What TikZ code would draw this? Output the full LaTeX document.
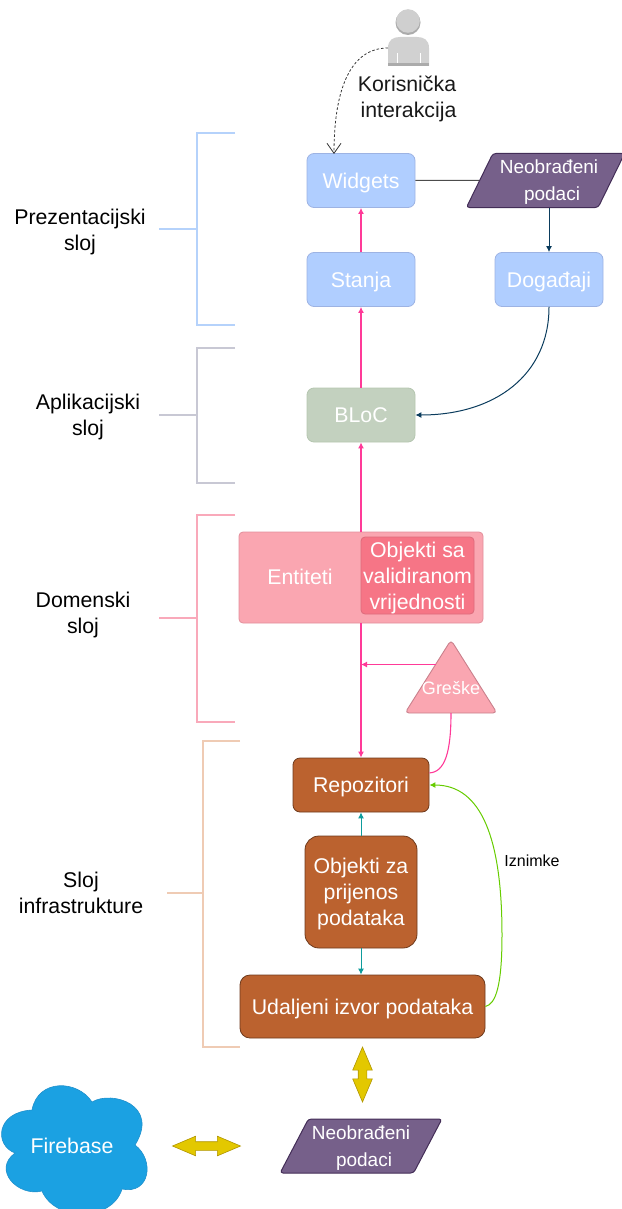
\documentclass[tikz,border=0pt]{standalone}
\usepackage{fontspec}
\setmainfont{Liberation Sans}
\usepackage{xcolor}
\usetikzlibrary{shapes.geometric}
\usetikzlibrary{shapes.arrows}
\usetikzlibrary{arrows.meta}
\definecolor{boxblue}{HTML}{B0CEFF}
\definecolor{edgeblue}{HTML}{9DB3E3}
\definecolor{rawpurple}{HTML}{76608A}
\definecolor{edgepurple}{HTML}{432D57}
\definecolor{blocgreen}{HTML}{C3D1BF}
\definecolor{edgegreen}{HTML}{B5C6B0}
\definecolor{entpink}{HTML}{FAA6B1}
\definecolor{edgepink}{HTML}{E28F9B}
\definecolor{edgetri}{HTML}{C9808C}
\definecolor{valpink}{HTML}{F67586}
\definecolor{edgeval}{HTML}{DD6B7B}
\definecolor{infbrown}{HTML}{BB622F}
\definecolor{edgebrown}{HTML}{6E3A1C}
\definecolor{fireblue}{HTML}{1BA1E2}
\definecolor{edgefire}{HTML}{2090CC}
\definecolor{arrowyellow}{HTML}{E3C800}
\definecolor{edgeyellow}{HTML}{B09500}
\definecolor{linepink}{HTML}{FF3A98}
\definecolor{lineteal}{HTML}{0E9C9C}
\definecolor{linegreen}{HTML}{66CC00}
\definecolor{linenavy}{HTML}{0B3C5D}
\definecolor{brackblue}{HTML}{B5D2FB}
\definecolor{brackgrey}{HTML}{C8C8D4}
\definecolor{brackpink}{HTML}{F9A9BA}
\definecolor{brackpeach}{HTML}{EFCBB4}
\begin{document}
\begin{tikzpicture}[x=1pt, y=-1pt, node distance=99pt,
    block/.style={draw, rounded corners=7pt, minimum width=108pt, minimum height=54pt, inner sep=0pt, text=white, align=center, text depth=0pt, line width=0.8pt, font=\fontsize{21.3}{26}\selectfont},
    uilayer/.style={block, fill=boxblue, draw=edgeblue},
    infra/.style={block, fill=infbrown, draw=edgebrown},
    rawdata/.style={draw=edgepurple, fill=rawpurple, trapezium, trapezium left angle=57, trapezium right angle=123, trapezium stretches=true, rounded corners=3pt, minimum height=54pt, inner sep=0pt, text=white, align=center, text depth=0pt, line width=1pt, font=\fontsize{19}{27}\selectfont},
    yellowarrow/.style={draw=edgeyellow, fill=arrowyellow, double arrow, double arrow head extend=5.5pt, double arrow tip angle=46, inner sep=4pt, minimum height=68pt, minimum width=19pt, line width=0.6pt},
    sidelabel/.style={align=center, inner sep=0pt, font=\fontsize{21.3}{26}\selectfont},
    bracket/.style={line width=1.5pt},
    flow/.style={line width=1pt, -{Latex[length=6pt, width=6pt]}},
    pinkflow/.style={line width=1.1pt, linepink, -{Latex[length=6pt, width=6pt]}}]
    \useasboundingbox (0,0) rectangle (621,1209);

    \draw[bracket, brackblue] (235,133) -- (197,133) -- (197,325) -- (235,325);
    \draw[bracket, brackblue] (159,229) -- (197,229);
    \draw[bracket, brackgrey] (235,348) -- (197,348) -- (197,483) -- (235,483);
    \draw[bracket, brackgrey] (159,415) -- (197,415);
    \draw[bracket, brackpink] (235,515) -- (197,515) -- (197,722) -- (235,722);
    \draw[bracket, brackpink] (159,618) -- (197,618);
    \draw[bracket, brackpeach] (240,741) -- (203,741) -- (203,1047) -- (240,1047);
    \draw[bracket, brackpeach] (167,893) -- (203,893);

    \node[sidelabel] (prezlabel) at (80,231.5) {Prezentacijski\\sloj};
    \node[sidelabel] (aplilabel) at (88,417) {Aplikacijski\\sloj};
    \node[sidelabel] (domlabel) at (83,615) {Domenski\\sloj};
    \node[sidelabel] (inflabel) at (81,893) {Sloj\\infrastrukture};

    \fill[black!33] (408,22.5) circle (12.5);
    \fill[black!19] (408,21) circle (11.8);
    \fill[black!18] (388,66) -- (388,48) .. controls (388,40) and (393,37) .. (400,37) -- (417,37) .. controls (424,37) and (429,40) .. (429,48) -- (429,66) -- cycle;
    \fill[black!33] (388,63) rectangle (429,66);
    \draw[white, line width=0.6pt] (397,53) -- (397,63) (420,53) -- (420,63);
    \coordinate (userleft) at (388,48);
    \coordinate (widgetin) at (334,154);
    \node[sidelabel, text=black!90] (userlabel) at (407,99) {Korisnička\\\hspace*{3pt}interakcija};

    \node[uilayer] (widgets) at (361,180.5) {Widgets};
    \node[uilayer] (stanja) [below of=widgets] {Stanja};
    \node[uilayer] (dogadaji) at (549,279.5) {Događaji};
    \node[block, fill=blocgreen, draw=edgegreen] (bloc) at (361,415) {BLoC};
    \node[rawdata, minimum width=155pt] (rawtop) at (545.5,180.5) {\hspace*{7pt}Neobrađeni\\\hspace*{13pt}podaci};

    \node[block, fill=entpink, draw=edgepink, minimum width=244pt, minimum height=91pt, rounded corners=4pt] (entiteti) at (361,577.5) {};
    \node[inner sep=0pt, text=white, font=\fontsize{21.3}{26}\selectfont] (entlabel) at (300,577) {Entiteti};
    \node[block, fill=valpink, draw=edgeval, minimum width=113pt, minimum height=77pt, rounded corners=4pt] (vrijednost) at (417.5,575.5) {Objekti sa\\validiranom\\vrijednosti};

    \coordinate (greskeout) at (436,664.5);
    \coordinate (greskein) at (361,664.5);
    \coordinate (greskebase) at (451,713);
    \draw[draw=edgetri, fill=entpink, rounded corners=4pt, line width=0.9pt] (451,640) -- (497,713) -- (405,713) -- cycle;
    \node[inner sep=0pt, text=white, font=\fontsize{18}{20}\selectfont] (greske) at (451,688) {Greške};

    \node[infra, minimum width=136pt] (repozitori) at (361,785) {Repozitori};
    \node[infra, minimum width=112pt, minimum height=112pt, rounded corners=14pt] (dto) at (361,892) {Objekti za\\prijenos\\podataka};
    \node[infra, minimum width=245pt, minimum height=63pt, rounded corners=10pt] (izvor) at (362.5,1006.5) {Udaljeni izvor podataka};

    \node[rawdata, minimum width=162pt] (rawbottom) at (361,1146) {Neobrađeni\\\hspace*{6pt}podaci};
    \node[yellowarrow, minimum height=55pt, rotate=90] (arrowvert) at (362.5,1074.5) {};
    \node[yellowarrow] (arrowhoriz) at (206.5,1146) {};

    \draw[draw=edgefire, fill=fireblue, line width=0.6pt] (32,1110) .. controls (38,1078) and (78,1080) .. (92,1102) .. controls (112,1090) and (160,1105) .. (135,1145) .. controls (155,1160) and (150,1195) .. (122,1189) .. controls (112,1222) and (55,1222) .. (42,1191) .. controls (18,1197) and (-8,1170) .. (15,1153) .. controls (-6,1145) and (-4,1112) .. (32,1110) -- cycle;
    \node[inner sep=0pt, text=white, font=\fontsize{21.3}{24}\selectfont] (firebase) at (72,1146) {Firebase};

    \draw[pinkflow] (stanja) -- (widgets);
    \draw[pinkflow] (bloc) -- (stanja);
    \draw[pinkflow] (entiteti) -- (bloc);
    \draw[pinkflow] (entiteti) -- (repozitori);
    \draw[pinkflow] (greskeout) -- (greskein);
    \draw[line width=1.1pt, linepink] (greskebase) .. controls (451,752) and (445,772) .. (repozitori.10);
    \draw[flow, linegreen] (izvor.east) .. controls (496,1004) and (502,985) .. (502,935) .. controls (502,840) and (482,785) .. (repozitori.east);
    \draw[flow, lineteal] (dto) -- (repozitori);
    \draw[flow, lineteal] (dto) -- (izvor.north -| dto);
    \draw[line width=1pt, black!70] (widgets) -- (rawtop);
    \draw[flow, linenavy] (rawtop.south -| dogadaji) -- (dogadaji);
    \draw[flow, linenavy] (dogadaji) .. controls (549,375) and (495,415) .. (bloc);
    \draw[line width=0.8pt, dashed, black!80, dash pattern=on 2.5pt off 2pt, -{Straight Barb[length=10pt, width=14pt]}] (userleft) .. controls (350,48) and (334,90) .. (widgetin);
    \node[inner sep=0pt, font=\fontsize{16}{18}\selectfont] (iznimke) at (532,861) {Iznimke};
\end{tikzpicture}
\end{document}
